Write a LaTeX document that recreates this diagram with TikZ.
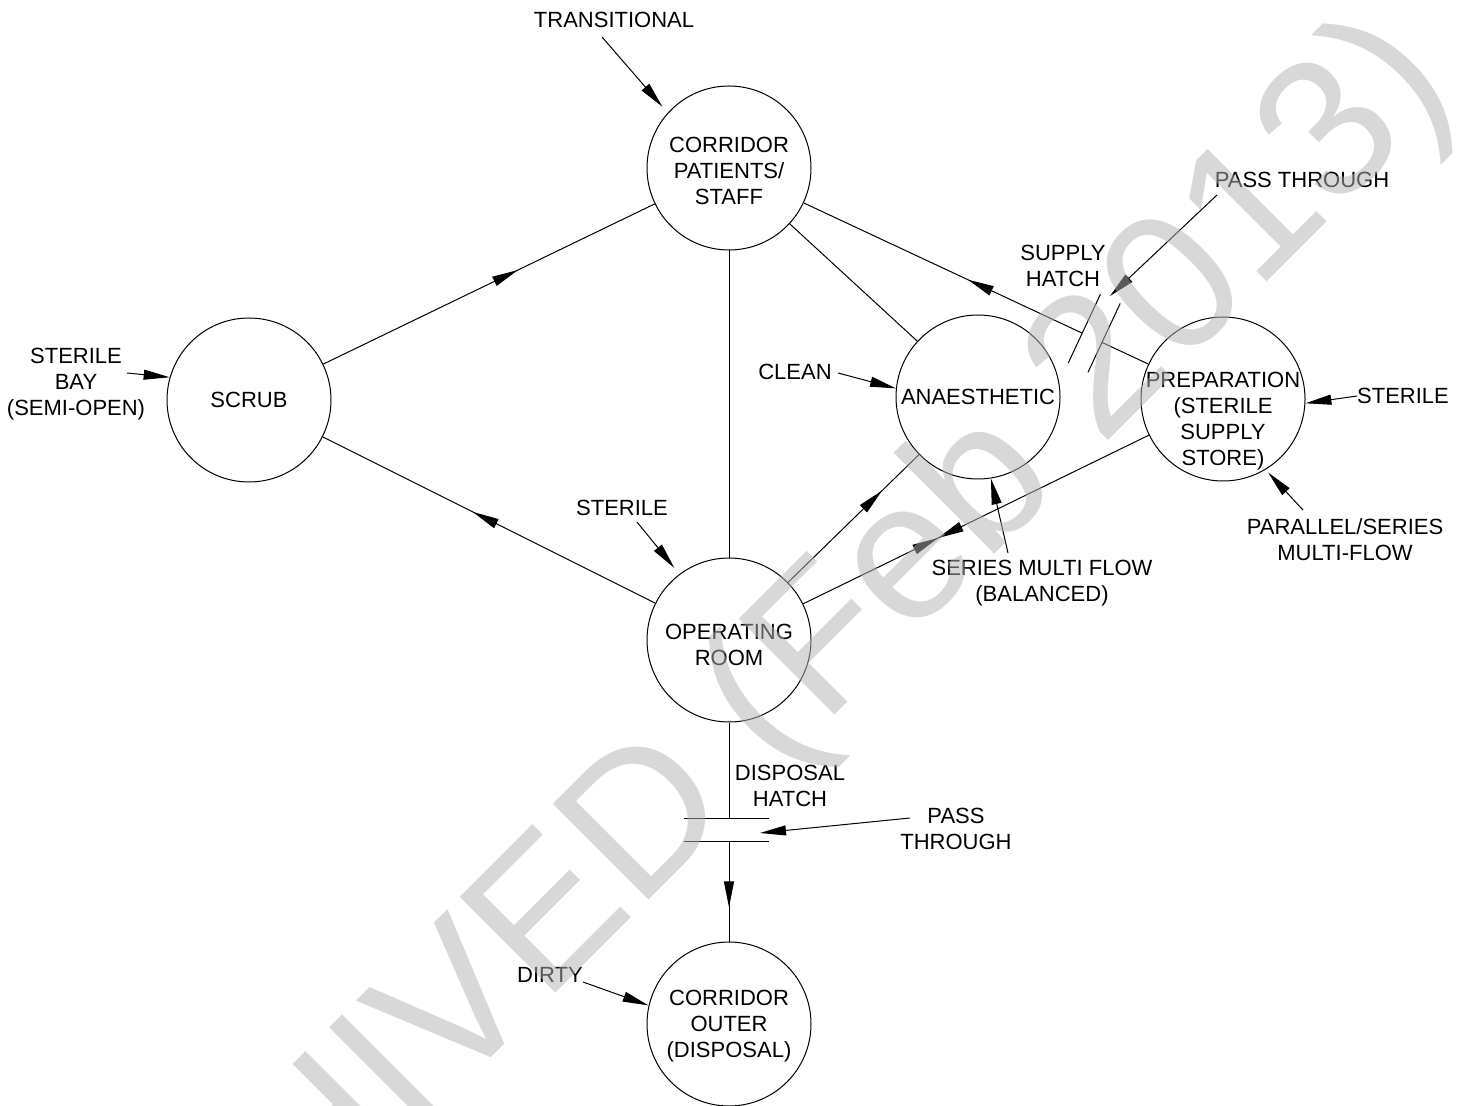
\documentclass[tikz,border=0pt]{standalone}
\usepackage{fontspec}
\setmainfont{Liberation Sans}
\usetikzlibrary{arrows.meta,decorations.markings,calc}
\begin{document}
\begin{tikzpicture}[x=0.5pt,y=-0.5pt,
  every node/.style={font=\fontsize{11}{13}\selectfont, align=center, inner sep=0pt},
  room/.style={circle, draw, line width=0.5pt, minimum size=82pt, inner sep=0pt},
  ln/.style={line width=0.5pt},
  arr/.style={ln, -{Triangle[length=13pt,width=5pt]}},
  midarr/.style={ln, postaction={decorate}, decoration={markings, mark=at position #1 with {\arrow{Triangle[length=13pt,width=5pt]}}}},
  bothmid/.style={ln, postaction={decorate}, decoration={markings, mark=at position #1 with {\arrow{Triangle[length=13pt,width=5pt]}\arrowreversed{Triangle[length=13pt,width=5pt]}}}},
  wm/.style={font=\fontsize{98.5}{100}\selectfont, text=black!30, opacity=0.5, inner sep=0pt}
]
\useasboundingbox (0,0) rectangle (1466,1106);

% rooms
\node[room] (corr) at (729,168) {};
\node (corrtxt) at (729,171) {CORRIDOR\\PATIENTS/\\STAFF};
\node[room] (scrub) at (249,400) {SCRUB};
\node[room] (orr) at (729,640) {};
\node (ortxt) at (729,645) {OPERATING\\ROOM};
\node[room] (ana) at (978,397) {ANAESTHETIC};
\node[room] (prep) at (1223,399) {};
\node (preptxt) at (1223,421) {PREPARATION\\(STERILE\\SUPPLY\\STORE)};
\node[room] (outer) at (729,1024) {};
\node (outertxt) at (729,1026) {CORRIDOR\\OUTER\\(DISPOSAL)};

% main connectors
\draw[midarr=0.587] (scrub) -- (corr);
\draw[midarr=0.548] (orr) -- (scrub);
\draw[ln] (corr) -- (orr);
\draw[ln] (corr) -- (ana);
\draw[midarr=0.72] (orr) -- (ana);
\draw[bothmid=0.39] (orr) -- (prep);

% supply hatch
\coordinate (hA) at ($(prep.center)!0.245!(corr.center)$);
\coordinate (hB) at ($(prep.center)!0.285!(corr.center)$);
\draw[ln] (prep) -- (hA);
\draw[midarr=0.41] (hB) -- (corr);
\draw[ln] ($(hA)!21.5pt!-90:(corr.center)$) -- ($(hA)!16.5pt!90:(corr.center)$);
\draw[ln] ($(hB)!21.5pt!-90:(corr.center)$) -- ($(hB)!16.5pt!90:(corr.center)$);
\node (suphatch) at (1063,266) {SUPPLY\\HATCH};
\node (passtop) at (1302,180) {PASS THROUGH};
\coordinate (ptA) at (1217,195);
\coordinate (ptB) at (1110,296);
\draw[arr] (ptA) -- (ptB);

% annotations
\node (transl) at (614,20) {TRANSITIONAL};
\coordinate (trA) at (602,37);
\draw[arr, shorten >=4pt] (trA) -- (corr.138);

\node (sbay) at (76,384) {STERILE\\BAY\\(SEMI-OPEN)};
\coordinate (sbA) at (127,373);
\draw[arr] (sbA) -- (scrub.164);

\node (clean) at (795,372) {CLEAN};
\coordinate (clA) at (838,373);
\draw[arr] (clA) -- (ana.174);

\node (steor) at (622,508) {STERILE};
\coordinate (soA) at (637,522);
\draw[arr, shorten >=4pt] (soA) -- (orr.127);

\node (series) at (1042,583) {SERIES MULTI FLOW\\(BALANCED)};
\coordinate (seA) at (1008,553);
\draw[arr] (seA) -- (ana.-81);

\node (stprep) at (1403,396) {STERILE};
\coordinate (spA) at (1357,396);
\draw[arr] (spA) -- (prep.-3);

\node (parallel) at (1345,540) {PARALLEL/SERIES\\MULTI-FLOW};
\coordinate (paA) at (1303,510);
\draw[arr, shorten >=2pt] (paA) -- (prep.-59);

% disposal hatch
\coordinate (dA) at (729,818);
\coordinate (dB) at (729,841);
\draw[ln] (orr) -- (dA);
\draw[ln] ([xshift=-22.5pt]dA) -- ([xshift=20pt]dA);
\draw[ln] ([xshift=-22.5pt]dB) -- ([xshift=20pt]dB);
\draw[midarr=0.66] (dB) -- (outer);
\node (disph) at (790,786) {DISPOSAL\\HATCH};
\node (passbot) at (956,829) {PASS\\THROUGH};
\coordinate (pbA) at (910,818);
\coordinate (pbB) at (760,833);
\draw[arr] (pbA) -- (pbB);

\node (dirty) at (550,975) {DIRTY};
\coordinate (dtA) at (583,982);
\draw[arr] (dtA) -- (outer.167);

% watermark
\begin{scope}
\clip (0,0) rectangle (1466,1106);
\node[wm, rotate=45, anchor=base west] (wm) at (18,1531) {ARCHIVED (Feb 2013)};
\end{scope}
\end{tikzpicture}
\end{document}
